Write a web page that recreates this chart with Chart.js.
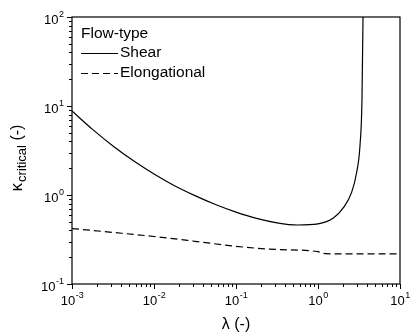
<!DOCTYPE html>
<html>
<head>
<meta charset="utf-8">
<script src="https://cdn.jsdelivr.net/npm/chart.js@4.4.1/dist/chart.umd.min.js"></script>
<style>
html,body{margin:0;padding:0;background:#fff;}
#wrap{width:410px;height:333px;position:relative;}
</style>
</head>
<body>
<div id="wrap"><canvas id="c" width="410" height="333"></canvas></div>
<script>
// ---- data ----
const shearLambda = [0.001, 0.00178, 0.00316, 0.00562, 0.01, 0.0178, 0.0316, 0.0562, 0.1, 0.178, 0.316, 0.562, 1.0, 1.54, 2.04, 2.57, 2.96, 3.25, 3.44, 3.54, 3.56];
const shearKappa  = [8.79, 5.46, 3.55, 2.42, 1.72, 1.27, 0.983, 0.781, 0.642, 0.546, 0.487, 0.460, 0.473, 0.55, 0.72, 1.07, 1.79, 3.58, 12, 100, 200];
const elongLambda = [0.001, 0.00316, 0.01, 0.0316, 0.1, 0.316, 1.0, 1.1, 1.25, 2.0, 5.0, 10.0];
const elongKappa  = [0.42, 0.38, 0.342, 0.302, 0.265, 0.244, 0.231, 0.224, 0.219, 0.218, 0.218, 0.218];
const seriesNames = ["Shear", "Elongational"];
const legendTitle = "Flow-type";
const xExponents = [-3, -2, -1, 0, 1];
const yExponents = [-1, 0, 1, 2];
const xTitle = "λ (-)";
const yTitleMain = "κ", yTitleSub = "critical", yTitleTail = " (-)";

const FONT = '"Liberation Sans", Arial, Helvetica, sans-serif';
const toPts = (xs, ys) => xs.map((x, i) => ({x: x, y: ys[i]}));

const decor = {
  id: 'decor',
  afterDraw(chart) {
    const ctx = chart.ctx;
    const a = chart.chartArea;
    const xs = chart.scales.x, ys = chart.scales.y;
    ctx.save();
    ctx.strokeStyle = '#000';
    ctx.fillStyle = '#000';
    // frame
    ctx.lineWidth = 1.2;
    ctx.strokeRect(a.left, a.top, a.right - a.left, a.bottom - a.top);
    // y ticks
    ctx.lineWidth = 1;
    ctx.beginPath();
    yExponents.forEach(e => {
      const py = Math.round(ys.getPixelForValue(Math.pow(10, e))) + 0.5;
      ctx.moveTo(a.left - 5, py); ctx.lineTo(a.left, py);
      if (e < yExponents[yExponents.length - 1]) {
        for (let m = 2; m <= 9; m++) {
          const q = Math.round(ys.getPixelForValue(m * Math.pow(10, e))) + 0.5;
          ctx.moveTo(a.left - 3, q); ctx.lineTo(a.left, q);
        }
      }
    });
    // x ticks
    xExponents.forEach(e => {
      const px = Math.round(xs.getPixelForValue(Math.pow(10, e))) + 0.5;
      ctx.moveTo(px, a.bottom); ctx.lineTo(px, a.bottom + 5);
      if (e < xExponents[xExponents.length - 1]) {
        for (let m = 2; m <= 9; m++) {
          const q = Math.round(xs.getPixelForValue(m * Math.pow(10, e))) + 0.5;
          ctx.moveTo(q, a.bottom); ctx.lineTo(q, a.bottom + 3);
        }
      }
    });
    ctx.stroke();

    // power labels
    const baseFont = '13px ' + FONT, supFont = '9px ' + FONT;
    function powWidth(e) {
      ctx.font = baseFont; const w1 = ctx.measureText('10').width;
      ctx.font = supFont; const w2 = ctx.measureText(String(e)).width;
      return [w1, w2];
    }
    ctx.textBaseline = 'alphabetic';
    ctx.textAlign = 'left';
    xExponents.forEach(e => {
      const px = xs.getPixelForValue(Math.pow(10, e));
      const [w1, w2] = powWidth(e);
      const x0 = px - (w1 + w2) / 2;
      ctx.font = baseFont; ctx.fillText('10', x0, a.bottom + 21);
      ctx.font = supFont; ctx.fillText(String(e), x0 + w1 + 0.5, a.bottom + 14);
    });
    yExponents.forEach(e => {
      const py = ys.getPixelForValue(Math.pow(10, e));
      const [w1, w2] = powWidth(e);
      const x0 = a.left - 8 - (w1 + w2 + 0.5);
      ctx.font = baseFont; ctx.fillText('10', x0, py + 7);
      ctx.font = supFont; ctx.fillText(String(e), x0 + w1 + 0.5, py);
    });

    // x title
    ctx.font = '16px ' + FONT;
    ctx.textAlign = 'center';
    ctx.fillText(xTitle, (a.left + a.right) / 2, 329);

    // y title
    ctx.save();
    ctx.translate(21.5, 158);
    ctx.rotate(-Math.PI / 2);
    ctx.textAlign = 'left';
    ctx.font = '17px ' + FONT; const wk = ctx.measureText(yTitleMain).width + 1;
    ctx.font = '13px ' + FONT; const wc = ctx.measureText(yTitleSub).width;
    ctx.font = '16px ' + FONT; const wt = ctx.measureText(yTitleTail).width;
    let x0 = -(wk + wc + wt) / 2;
    ctx.font = '17px ' + FONT; ctx.fillText(yTitleMain, x0, 0);
    ctx.font = '13px ' + FONT; ctx.fillText(yTitleSub, x0 + wk, 4);
    ctx.font = '16px ' + FONT; ctx.fillText(yTitleTail, x0 + wk + wc, 0);
    ctx.restore();

    // legend
    const ds = chart.data.datasets;
    ctx.font = '15.5px ' + FONT;
    ctx.textAlign = 'left';
    ctx.textBaseline = 'middle';
    ctx.fillText(legendTitle, a.left + 9, 34);
    const rows = [53, 73];
    ds.forEach((d, i) => {
      ctx.lineWidth = 1.2;
      ctx.setLineDash(d.borderDash || []);
      ctx.beginPath();
      ctx.moveTo(a.left + 9, rows[i] + 0.5); ctx.lineTo(a.left + 46, rows[i] + 0.5);
      ctx.stroke();
      ctx.setLineDash([]);
      ctx.fillText(d.label, a.left + 48, rows[i]);
    });
    ctx.restore();
  }
};

new Chart(document.getElementById('c'), {
  type: 'line',
  data: {
    datasets: [
      {label: seriesNames[0], data: toPts(shearLambda, shearKappa), borderColor: '#000', borderWidth: 1.2,
       pointRadius: 0, cubicInterpolationMode: 'monotone', fill: false},
      {label: seriesNames[1], data: toPts(elongLambda, elongKappa), borderColor: '#000', borderWidth: 1.2,
       borderDash: [7, 4], pointRadius: 0, cubicInterpolationMode: 'monotone', fill: false}
    ]
  },
  options: {
    responsive: false,
    animation: false,
    devicePixelRatio: 1,
    layout: {padding: {left: 72, right: 10, top: 17, bottom: 49}},
    plugins: {legend: {display: false}, tooltip: {enabled: false}},
    scales: {
      x: {type: 'logarithmic', min: 0.001, max: 10, display: false},
      y: {type: 'logarithmic', min: 0.1, max: 100, display: false}
    }
  },
  plugins: [decor]
});
</script>
</body>
</html>
